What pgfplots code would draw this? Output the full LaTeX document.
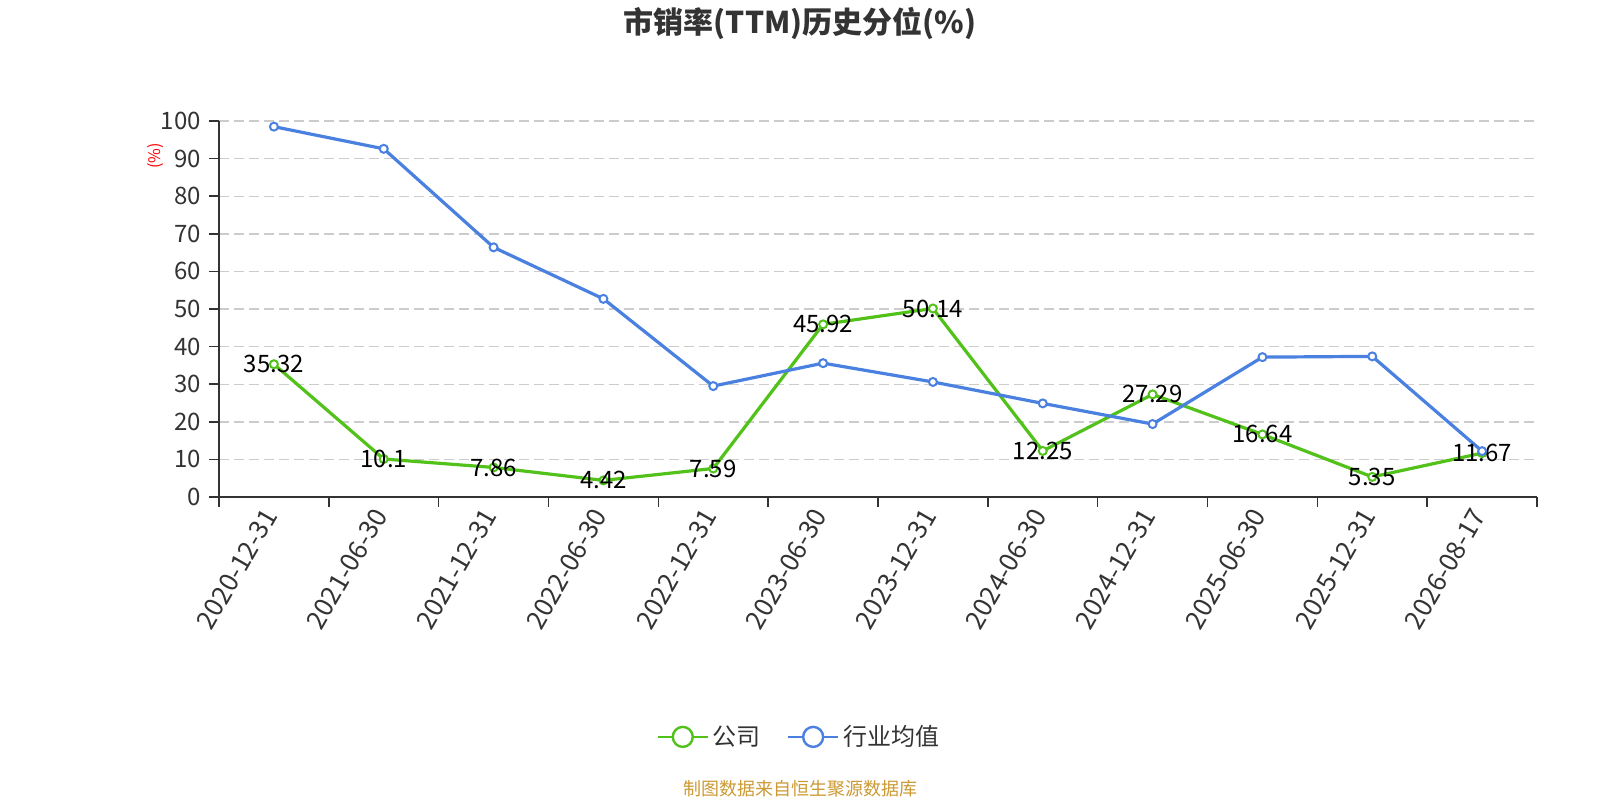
\documentclass[border=0pt]{standalone}
\usepackage{pgfplots}
\pgfplotsset{compat=1.18}
\usepackage{fontspec}
\setmainfont{Noto Sans CJK SC}
\definecolor{cgreen}{RGB}{82,194,26}
\definecolor{cblue}{RGB}{74,128,224}
\definecolor{ctext}{RGB}{51,51,51}
\definecolor{cgrid}{RGB}{204,204,204}
\definecolor{csrc}{RGB}{204,153,51}
\begin{document}
\begin{tikzpicture}
\path[use as bounding box] (0,0) rectangle (800pt,400pt);
\node[font=\bfseries\fontsize{15}{17}\selectfont, text=ctext] at (400pt,388.5pt) {市销率(TTM)历史分位(\%)};
\node[font=\fontsize{8}{9}\selectfont, text=red, rotate=90] at (78pt,322pt) {(\%)};
\node[font=\fontsize{9}{11}\selectfont, text=csrc] at (400pt,5.5pt) {制图数据来自恒生聚源数据库};
\begin{axis}[
  at={(109.5pt,151.5pt)}, anchor=south west,
  scale only axis, width=659pt, height=188pt,
  xmin=-0.5, xmax=11.5, ymin=0, ymax=100,
  axis lines=left, axis line style={-, draw=ctext, line width=0.8pt},
  xtick={0,...,11},
  xticklabels={2020-12-31,2021-06-30,2021-12-31,2022-06-30,2022-12-31,2023-06-30,2023-12-31,2024-06-30,2024-12-31,2025-06-30,2025-12-31,2026-08-17},
  minor xtick={-0.5,0.5,...,11.5},
  ytick={0,10,...,100},
  minor ytick={0,10,...,100},
  major tick length=0pt, minor tick length=5pt,
  tick align=outside,
  tick style={draw=ctext, line width=0.8pt},
  ymajorgrids, major grid style={draw=cgrid, line width=0.7pt, dash pattern=on 5pt off 2.5pt},
  minor grid style={draw=none},
  /pgf/number format/assume math mode=true,
  yticklabel style={font=\fontsize{12}{14}\selectfont, text=ctext, xshift=-5.5pt},
  xticklabel style={font=\fontsize{13}{15}\selectfont, text=ctext, yshift=-4pt, rotate=60, anchor=east},
  clip=false,
  legend style={at={(0.4408,-0.638)}, anchor=center, draw=none, fill=none,
    legend columns=-1, font=\fontsize{12}{14}\selectfont, text=ctext,
    /tikz/every even column/.append style={column sep=11pt}},
  legend cell align=left,
]
\addplot[color=cgreen, line width=1.6pt, mark=*, mark options={fill=white, line width=1pt}, mark size=2pt,
  nodes near coords, nodes near coords align={center}, point meta=y,
  every node near coord/.append style={font=\fontsize{12}{14}\selectfont, text=black},
  legend image code/.code={\draw[cgreen, line width=1.2pt] (0pt,0pt) -- (25pt,0pt); \draw[cgreen, line width=1.2pt, fill=white] (12.5pt,0pt) circle (5pt);}]
coordinates {(0,35.32) (1,10.1) (2,7.86) (3,4.42) (4,7.59) (5,45.92) (6,50.14) (7,12.25) (8,27.29) (9,16.64) (10,5.35) (11,11.67)};
\addlegendentry{公司}
\addplot[color=cblue, line width=1.6pt, mark=*, mark options={fill=white, line width=1pt}, mark size=2pt,
  legend image code/.code={\draw[cblue, line width=1.2pt] (0pt,0pt) -- (25pt,0pt); \draw[cblue, line width=1.2pt, fill=white] (12.5pt,0pt) circle (5pt);}]
coordinates {(0,98.5) (1,92.6) (2,66.4) (3,52.7) (4,29.5) (5,35.6) (6,30.6) (7,24.9) (8,19.4) (9,37.2) (10,37.4) (11,12.2)};
\addlegendentry{行业均值}
\end{axis}
\end{tikzpicture}
\end{document}
